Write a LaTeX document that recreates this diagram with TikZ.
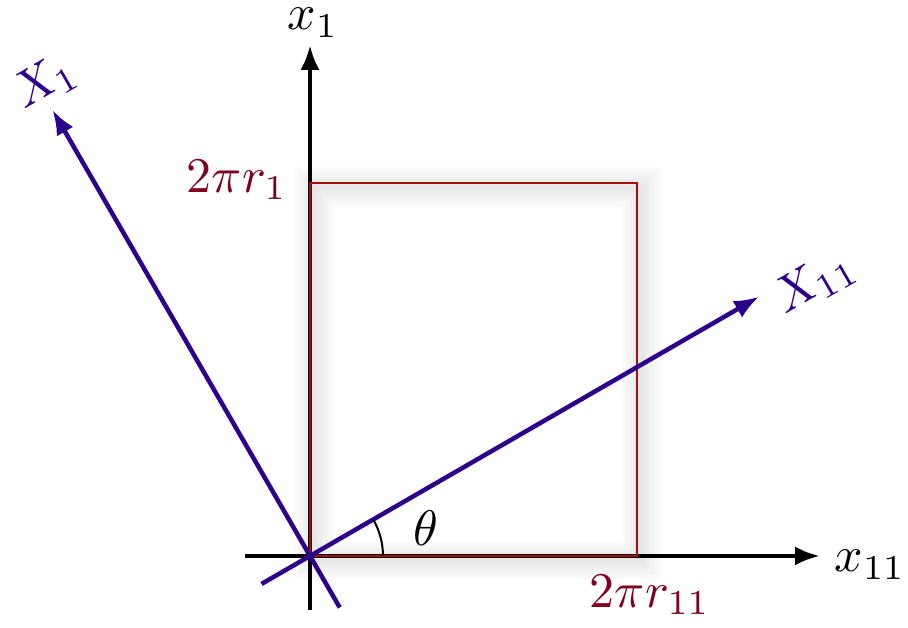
\documentclass[tikz,border=0pt]{standalone}
\usepackage{tikz}
\usepackage{xcolor}
\usetikzlibrary{calc,positioning,arrows.meta}
\definecolor{axisblue}{RGB}{45,0,140}
\definecolor{labelred}{RGB}{128,0,32}
\definecolor{boxred}{RGB}{170,10,10}

\begin{document}
\begin{tikzpicture}
  \tikzstyle{axis}=[draw=black,line width=0.9pt,-{Latex[length=5pt,width=3.8pt]}]
  \tikzstyle{rotaxis}=[draw=axisblue,line width=0.9pt,-{Latex[length=5pt,width=3.8pt]}]
  \useasboundingbox (-2.183,-0.507) rectangle (4.211,3.915);
  \coordinate (O) at (0,0);
  \coordinate (C) at (2.303,2.627);
  \coordinate (xs) at (-0.458,0);
  \coordinate (xe) at (3.592,0);
  \coordinate (ys) at (0,-0.38);
  \coordinate (ye) at (0,3.599);
  \coordinate (Xs) at (210:0.394);
  \coordinate (Xe) at (30:3.652);
  \coordinate (Ys) at (300:0.419);
  \coordinate (Ye) at (120:3.627);
  % soft shadow of the box
  \foreach \w in {1,...,8}
    \draw[black,opacity=0.011,line width=\w pt]
      ($(O)+(0.03,-0.03)$) rectangle ($(C)+(0.03,-0.03)$);
  \draw[axis] (xs) -- (xe);
  \draw[axis] (ys) -- (ye);
  \draw[boxred,line width=0.45pt] (O) rectangle (C);
  \draw[rotaxis] (Xs) -- (Xe);
  \draw[rotaxis] (Ys) -- (Ye);
  \draw[line width=0.4pt] ($(O)+(0.514,0)$) arc[start angle=0,end angle=30,radius=0.514];
  \node (theta) at (0.817,0.197) {$\theta$};
  \node[inner sep=0pt] (x1) at (0.021,3.755) {$x_1$};
  \node (x11) at (3.944,-0.063) {$x_{11}$};
  \node[axisblue,rotate=30] (X1) at (-1.866,3.338) {$X_1$};
  \node[axisblue,rotate=30] (X11) at (3.556,1.93) {$X_{11}$};
  \node[labelred] (h) at (-0.514,2.648) {$2\pi r_1$};
  \node[labelred] (w) at (2.394,-0.275) {$2\pi r_{11}$};
\end{tikzpicture}
\end{document}
